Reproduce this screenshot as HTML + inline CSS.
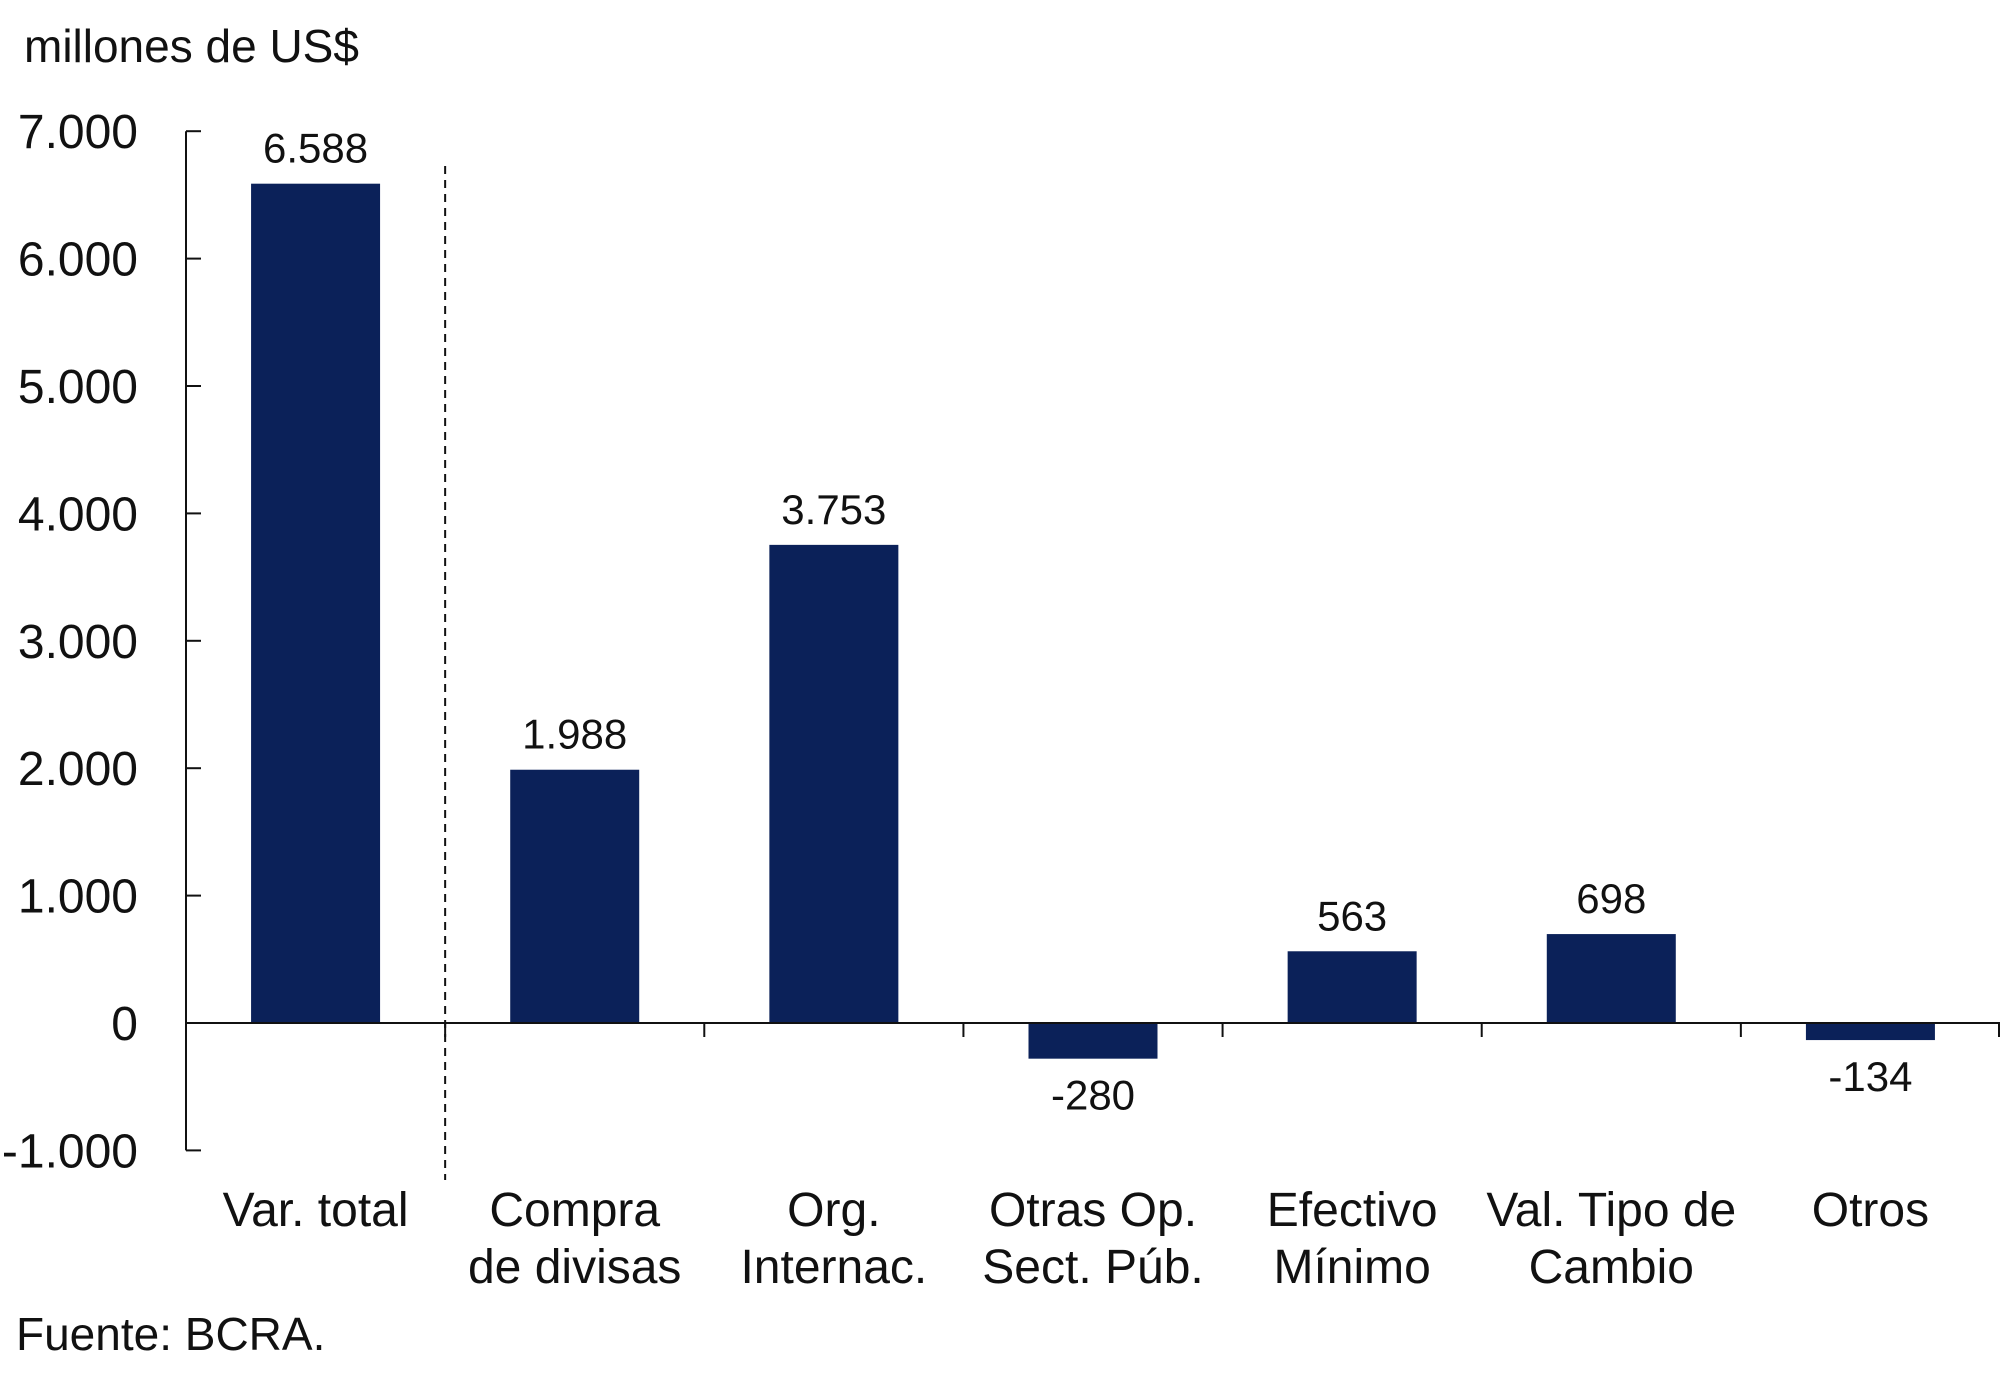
<!DOCTYPE html>
<html><head><meta charset="utf-8"><style>
body{margin:0;background:#fff;}
svg text{font-family:"Liberation Sans",sans-serif;fill:#111;}
</style></head><body>
<svg id="chart" width="2000" height="1372" viewBox="0 0 2000 1372" xmlns="http://www.w3.org/2000/svg">
<text x="24" y="62" font-size="46">millones de US$</text>
<text x="16" y="1350" font-size="46">Fuente: BCRA.</text>
<g id="plot"></g>
</svg>
<script>
const categories = [["Var. total"],["Compra","de divisas"],["Org.","Internac."],["Otras Op.","Sect. Púb."],["Efectivo","Mínimo"],["Val. Tipo de","Cambio"],["Otros"]];
const values = [6588,1988,3753,-280,563,698,-134];
const valueLabels = ["6.588","1.988","3.753","-280","563","698","-134"];
const yTicks = [-1000,0,1000,2000,3000,4000,5000,6000,7000];
const yTickLabels = ["-1.000","0","1.000","2.000","3.000","4.000","5.000","6.000","7.000"];
const NS="http://www.w3.org/2000/svg";
const g=document.getElementById('plot');
const x0=186, x1=2000, yZero=1023, perK=127.4;
const catW=(x1-x0)/categories.length, barW=129;
function y(v){return yZero - v/1000*perK;}
function cx(i){return x0+catW*(i+0.5);}
function el(t,a){const e=document.createElementNS(NS,t);for(const k in a)e.setAttribute(k,a[k]);g.appendChild(e);return e;}
let ax=el('line',{x1:x0,y1:y(7000),x2:x0,y2:y(-1000),stroke:'#111','stroke-width':2});


yTicks.forEach((v,i)=>{
  const t=el('line',{x1:x0,y1:y(v),x2:x0+15,y2:y(v),stroke:'#111','stroke-width':2});
  
  
  const l=el('text',{x:x0-48,y:y(v)+17,'font-size':48,'text-anchor':'end'});
  l.textContent=yTickLabels[i];
  
  
});
values.forEach((v,i)=>{
  const top=Math.min(y(v),yZero), h=Math.abs(y(v)-yZero);
  const b=el('rect',{x:cx(i)-barW/2,y:top,width:barW,height:h,fill:'#0b2159'});
  
  
  const ly = v>=0 ? y(v)-21 : y(v)+51;
  const l=el('text',{x:cx(i),y:ly,'font-size':42,'text-anchor':'middle'});
  l.textContent=valueLabels[i];
  
  
  categories[i].forEach((line,j)=>{
    const c=el('text',{x:cx(i),y:1226+j*57,'font-size':48,'text-anchor':'middle'});
    c.textContent=line;
    
    
  });
  if(i>0){
    const t=el('line',{x1:x0+catW*i,y1:yZero,x2:x0+catW*i,y2:yZero+14,stroke:'#111','stroke-width':2});
    
    
  }
});
const t7=el('line',{x1:x1-1,y1:yZero,x2:x1-1,y2:yZero+14,stroke:'#111','stroke-width':2});


const zl=el('line',{x1:x0,y1:yZero,x2:x1,y2:yZero,stroke:'#111','stroke-width':2});


const dl=el('line',{x1:x0+catW,y1:166,x2:x0+catW,y2:1180,stroke:'#111','stroke-width':2,'stroke-dasharray':'8,6'});


</script>
</body></html>
